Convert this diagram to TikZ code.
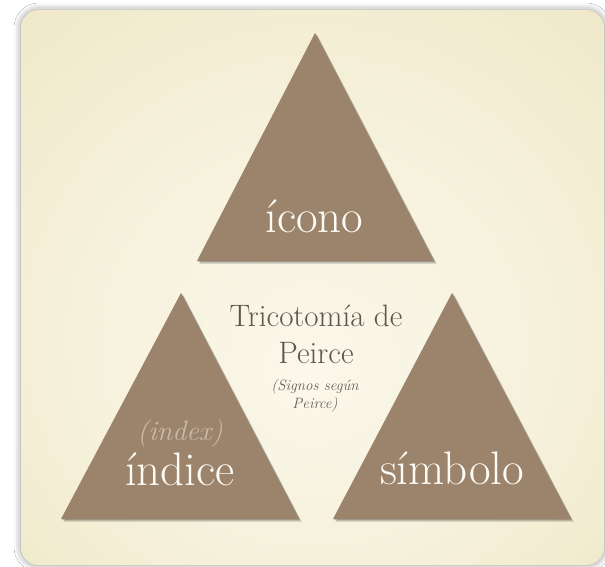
\documentclass[tikz,border=0pt]{standalone}
\usetikzlibrary{shadows.blur}
\definecolor{bgin}{RGB}{251,248,235}
\definecolor{bgmid}{RGB}{246,241,219}
\definecolor{bgout}{RGB}{237,230,196}
\definecolor{tricol}{RGB}{156,131,107}
\definecolor{lblcol}{RGB}{253,251,246}
\definecolor{idxcol}{RGB}{201,187,171}
\definecolor{ttlcol}{RGB}{92,87,78}
\definecolor{subcol}{RGB}{100,95,86}
\pgfdeclareradialshading{cardshade}{\pgfpoint{0bp}{-8bp}}{%
  color(0bp)=(bgin); color(20bp)=(bgmid); color(42bp)=(bgout); color(50bp)=(bgout)}
\tikzset{
  lab/.style={text=lblcol, inner sep=0pt, anchor=base, font=\fontsize{47}{50}\selectfont},
  idxs/.style={text=idxcol, inner sep=0pt, anchor=base, font=\fontsize{28}{30}\selectfont\itshape},
  ttls/.style={text=ttlcol, inner sep=0pt, anchor=base, font=\fontsize{31}{34}\selectfont},
  subs/.style={text=subcol, inner sep=0pt, anchor=base, font=\fontsize{15}{17}\selectfont\itshape},
  trishadow/.style={fill=black, opacity=0.2},
  trifill/.style={fill=tricol}
}
\newcommand\peircetri[3]{%
  \fill[trishadow] ([shift={(2.5,2.5)}]#1) -- ([shift={(2.5,2.5)}]#2) -- ([shift={(2.5,2.5)}]#3) -- cycle;
  \fill[trishadow] ([shift={(1.2,1.2)}]#1) -- ([shift={(1.2,1.2)}]#2) -- ([shift={(1.2,1.2)}]#3) -- cycle;
  \fill[trifill] (#1) -- (#2) -- (#3) -- cycle;
}
\begin{document}
\begin{tikzpicture}[x=1pt,y=-1pt]
\useasboundingbox (0,0) rectangle (605,567);
\fill[white] (0,0) rectangle (605,567);
% card with shadow
\fill[rounded corners=18pt, bgout,
  blur shadow={shadow xshift=0pt, shadow yshift=0pt, shadow blur radius=7pt, shadow opacity=45}]
  (21,10) rectangle (604,565);
\shade[rounded corners=18pt, shading=cardshade] (21,10) rectangle (604,565);
% triangles
\coordinate (ta) at (315,33);  \coordinate (tl) at (197,261); \coordinate (tr) at (434,261);
\coordinate (la) at (181,293); \coordinate (ll) at (61,519);  \coordinate (lr) at (299,519);
\coordinate (ra) at (452,293); \coordinate (rl) at (333,519); \coordinate (rr) at (571,519);
\peircetri{ta}{tl}{tr}
\peircetri{la}{ll}{lr}
\peircetri{ra}{rl}{rr}
% texts
\node[lab] (icono) at (314.5,232) {ícono};
\node[lab] (indice) at (180,485) {índice};
\node[lab] (simbolo) at (452,484) {símbolo};
\node[idxs] (index) at (180,440) {(index)};
\node[ttls] (tit1) at (316,326) {Tricotomía de};
\node[ttls] (tit2) at (316,363) {Peirce};
\node[subs] (sub1) at (315,390) {(Signos según};
\node[subs] (sub2) at (315,408) {Peirce)};
\end{tikzpicture}
\end{document}
